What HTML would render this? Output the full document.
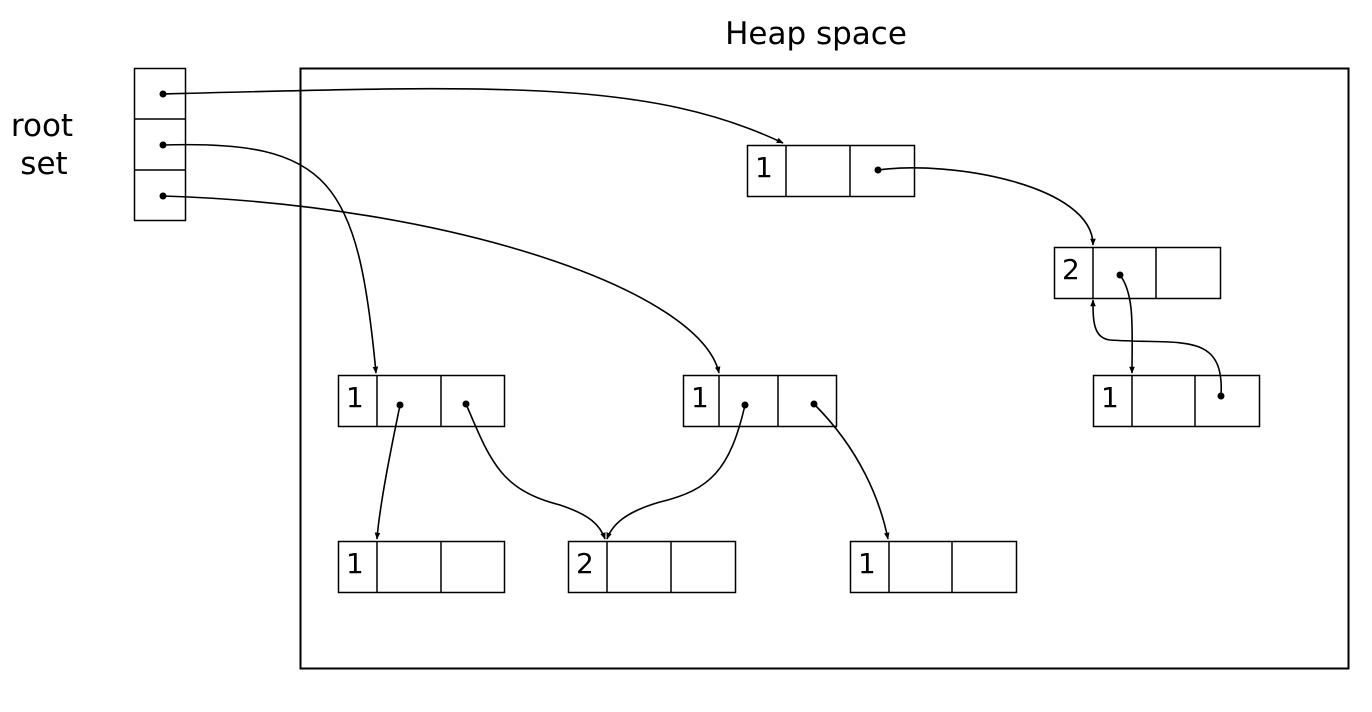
<!DOCTYPE html>
<html><head><meta charset="utf-8"><style>
html,body{margin:0;padding:0;background:#fff;}
svg{display:block;}
text{font-family:"DejaVu Sans","Liberation Sans",sans-serif;fill:#000;}
</style></head><body>
<svg width="1372" height="712" viewBox="0 0 1372 712">
<defs>
<marker id="ah" viewBox="0 0 10 10" refX="9" refY="5" markerWidth="7" markerHeight="7" orient="auto-start-reverse" markerUnits="userSpaceOnUse">
<path d="M0 1 L10 5 L0 9 z" fill="#000"/></marker>
</defs>
<text x="816" y="44" font-size="31" text-anchor="middle">Heap space</text>
<rect x="300.5" y="68.5" width="1048" height="600" fill="none" stroke="#000" stroke-width="2"/>
<text x="42" y="136" font-size="31" text-anchor="middle">root</text>
<text x="44" y="174" font-size="31" text-anchor="middle">set</text>
<g fill="none" stroke="#000" stroke-width="1.5">
<rect x="134.5" y="68.5" width="51" height="152"/>
<line x1="134" y1="119" x2="185" y2="119"/><line x1="134" y1="170" x2="185" y2="170"/>
</g>
<g id="nodes" fill="none" stroke="#000" stroke-width="1.5"></g>
<g id="arrows" fill="none" stroke="#000" stroke-width="1.6"></g>
<g id="dots" fill="#000"></g>
</svg>
<script>
const ns="http://www.w3.org/2000/svg";
const nodes=[[747,786,850,914,145,"1"],[1054,1093,1156,1220,247,"2"],[338,377,441,504,375,"1"],[683,719,778,836,375,"1"],[1093,1132,1195,1259,375,"1"],[338,377,441,504,541,"1"],[568,607,671,735,541,"2"],[850,889,952,1016,541,"1"]];
const g=document.getElementById('nodes');
nodes.forEach((n,i)=>{
 const r=document.createElementNS(ns,'rect');
 r.setAttribute('x',n[0]+.5);r.setAttribute('y',n[4]+.5);r.setAttribute('width',n[3]-n[0]);r.setAttribute('height',51);
 
 
 g.appendChild(r);
 [n[1],n[2]].forEach(x=>{const l=document.createElementNS(ns,'line');l.setAttribute('x1',x);l.setAttribute('x2',x);l.setAttribute('y1',n[4]);l.setAttribute('y2',n[4]+51);g.appendChild(l);});
 const t=document.createElementNS(ns,'text');
 t.setAttribute('x',n[0]+8);t.setAttribute('y',n[4]+32);t.setAttribute('font-size','28');t.setAttribute('stroke','none');
 
 
 t.textContent=n[5];g.appendChild(t);
});
const paths=["M163 94 C 500 85, 650 80, 783 143","M163 145 C 330 140, 358 180, 376 373","M163 196 C 450 205, 700 290, 719 373","M878 170 C 950 160, 1093 185, 1093 245","M1120 275 C 1135 295, 1132 330, 1132 373","M1221 396 C 1225 330, 1180 345, 1110 340 C 1093 338, 1093 320, 1093 300","M400 405 C 395 430, 380 500, 377 539","M466 404 C 490 460, 500 490, 560 505 C 590 515, 600 525, 605 539","M745 405 C 730 470, 710 490, 660 502 C 625 512, 612 525, 607 539","M814 404 C 860 450, 880 500, 888 539"];
const dots=[[163,94],[163,145],[163,196],[878,170],[1120,275],[1221,396],[400,405],[466,404],[745,405],[814,404]];
const ag=document.getElementById('arrows'),dg=document.getElementById('dots');
paths.forEach((d,i)=>{
 const p=document.createElementNS(ns,'path');p.setAttribute('d',d);p.setAttribute('marker-end','url(#ah)');
 
 
 ag.appendChild(p);
 const c=document.createElementNS(ns,'circle');c.setAttribute('cx',dots[i][0]);c.setAttribute('cy',dots[i][1]);c.setAttribute('r',3.5);
 
 
 dg.appendChild(c);
});
</script>
</body></html>
